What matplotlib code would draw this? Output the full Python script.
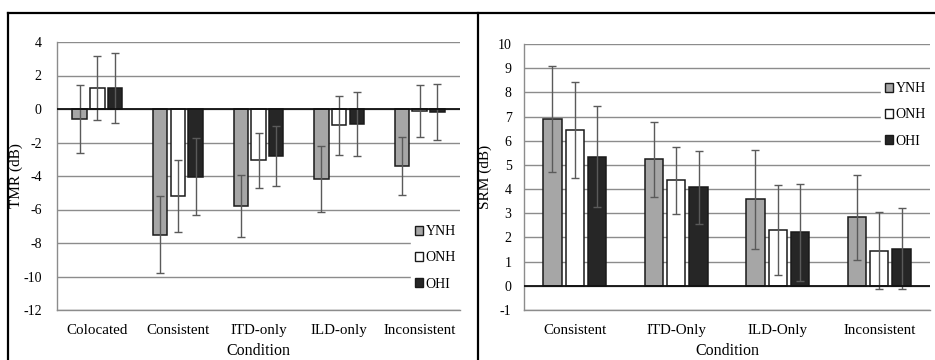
import matplotlib
matplotlib.use("Agg")
import matplotlib.pyplot as plt
import numpy as np
from matplotlib.patches import Patch
from matplotlib.lines import Line2D

plt.rcParams['font.family'] = ['Liberation Serif', 'DejaVu Serif']

groups = ["YNH", "ONH", "OHI"]

tmr_conditions = ["Colocated", "Consistent", "ITD-only", "ILD-only", "Inconsistent"]
tmr_ynh = [-0.6, -7.5, -5.8, -4.2, -3.4]
tmr_onh = [1.27, -5.18, -3.07, -0.98, -0.12]
tmr_ohi = [1.27, -4.04, -2.79, -0.9, -0.18]
tmr_ynh_err = [2.05, 2.3, 1.86, 1.97, 1.74]
tmr_onh_err = [1.9, 2.14, 1.65, 1.78, 1.55]
tmr_ohi_err = [2.08, 2.3, 1.8, 1.9, 1.65]

srm_conditions = ["Consistent", "ITD-Only", "ILD-Only", "Inconsistent"]
srm_ynh = [6.9, 5.23, 3.57, 2.84]
srm_onh = [6.44, 4.36, 2.3, 1.45]
srm_ohi = [5.34, 4.07, 2.21, 1.54]
srm_ynh_err = [2.18, 1.54, 2.05, 1.76]
srm_onh_err = [2.0, 1.4, 1.87, 1.6]
srm_ohi_err = [2.1, 1.5, 2.0, 1.67]

tmr_ticks = [-12, -10, -8, -6, -4, -2, 0, 2, 4]
srm_ticks = [-1, 0, 1, 2, 3, 4, 5, 6, 7, 8, 9, 10]

colors = ["#a6a6a6", "#ffffff", "#262626"]
edge = "#1a1a1a"
errc = "#5a5a5a"

fig = plt.figure(figsize=(9.35, 3.6), dpi=100)
W, H = 935, 360

def ax_at(x0, x1, y0, y1):
    return fig.add_axes([x0 / W, 1 - y1 / H, (x1 - x0) / W, (y1 - y0) / H])

ax1 = ax_at(57, 460, 42, 310)
ax2 = ax_at(524, 930, 44, 310)

def draw(ax, cats, vals, errs, ticks, ylabel, ypad, ylab_x, legend_anchor):
    x = np.arange(len(cats))
    off = 0.22
    w = 0.18
    for i, (v, e) in enumerate(zip(vals, errs)):
        ax.bar(x + (i - 1) * off, v, width=w, color=colors[i], edgecolor=edge,
               linewidth=1.1, zorder=3)
        ax.errorbar(x + (i - 1) * off, v, yerr=e, fmt='none', ecolor=errc,
                    elinewidth=1.0, capsize=2.8, capthick=1.0, zorder=4)
    ax.set_xlim(-0.5, len(cats) - 0.5)
    ax.set_ylim(ticks[0], ticks[-1])
    ax.set_yticks(ticks)
    ax.set_yticklabels([str(t) for t in ticks], fontsize=10)
    ax.set_xticks(x)
    ax.set_xticklabels(cats, fontsize=10.8)
    ax.tick_params(axis='both', length=0)
    ax.tick_params(axis='y', pad=ypad)
    ax.tick_params(axis='x', pad=10)
    ax.yaxis.grid(True, color='#8c8c8c', linewidth=1.0, zorder=0)
    ax.set_axisbelow(True)
    ax.axhline(0, color='#111111', linewidth=1.3, zorder=5)
    for s in ['top', 'right']:
        ax.spines[s].set_visible(False)
    ax.spines['left'].set_color('#8c8c8c')
    ax.spines['bottom'].set_color('#8c8c8c')
    ax.spines['left'].set_linewidth(1.0)
    ax.spines['bottom'].set_linewidth(1.0)
    ax.set_xlabel("Condition", fontsize=11.5, labelpad=4.5)
    ax.set_ylabel(ylabel, fontsize=11)
    ax.yaxis.set_label_coords(ylab_x, 0.5)
    handles = [Patch(facecolor=colors[i], edgecolor=edge, linewidth=1.0) for i in range(3)]
    leg = ax.legend(handles, groups, loc='upper right', bbox_to_anchor=legend_anchor,
                    frameon=True, fancybox=False, framealpha=1, edgecolor='white',
                    fontsize=10, handlelength=0.6, handleheight=0.6,
                    handletextpad=0.15, labelspacing=0.95, borderpad=0.3,
                    borderaxespad=0.0)
    leg.set_zorder(6)

draw(ax1, tmr_conditions, [tmr_ynh, tmr_onh, tmr_ohi],
     [tmr_ynh_err, tmr_onh_err, tmr_ohi_err], tmr_ticks, "TMR (dB)", 11,
     (23 - 57) / 403, (1.0, (310 - 221) / 268))
draw(ax2, srm_conditions, [srm_ynh, srm_onh, srm_ohi],
     [srm_ynh_err, srm_onh_err, srm_ohi_err], srm_ticks, "SRM (dB)", 9,
     (492 - 524) / 406, (1.0, (310 - 78) / 266))

# outer frame lines
fig.add_artist(Line2D([8 / W, 1.0], [1 - 13 / H, 1 - 13 / H], color='black', linewidth=1.6))
fig.add_artist(Line2D([8 / W, 8 / W], [0, 1 - 13 / H], color='black', linewidth=1.6))
fig.add_artist(Line2D([478 / W, 478 / W], [0, 1 - 13 / H], color='black', linewidth=1.6))

fig.savefig("out.png", dpi=100)
